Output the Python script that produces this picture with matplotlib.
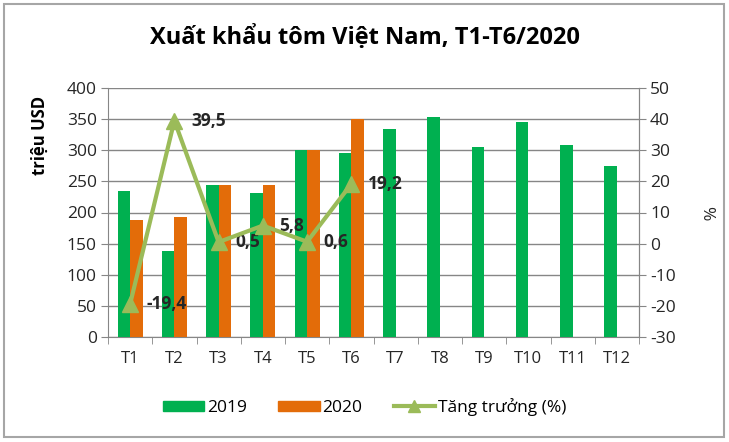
import numpy as np
import matplotlib.pyplot as plt
from matplotlib.patches import Patch, Rectangle
from matplotlib.lines import Line2D

# Chart data
months     = ["T1","T2","T3","T4","T5","T6","T7","T8","T9","T10","T11","T12"]
export2019 = [234, 138, 244, 232, 300, 295, 334, 353, 306, 345, 309, 275]
export2020 = [188, 193, 244, 244, 300, 351]
growth     = [-19.4, 39.5, 0.5, 5.8, 0.6, 19.2]

# Basic plot settings
green  = '#00B050'
orange = '#E36C09'
lgreen = '#9BBB59'
grid_c = '#868686'
text_c = '#262626'
fs     = 12.5
plt.rcParams['font.family'] = ['Open Sans', 'DejaVu Sans']
plt.rcParams['axes.unicode_minus'] = False

fig = plt.figure(figsize=(7.29, 4.42), dpi=100)
ax  = fig.add_axes([108/729, 1-337/442, 531/729, 249/442])

x  = np.arange(len(months))
bw = 0.28
ax.bar(x - bw/2, export2019, width=bw, color=green, zorder=3)
ax.bar(x[:len(export2020)] + bw/2, export2020, width=bw, color=orange, zorder=3)

ax.set_xlim(-0.5, len(months) - 0.5)
ax.set_ylim(0, 400)
ax.set_yticks(np.arange(0, 401, 50))
ax.yaxis.grid(True, color=grid_c, lw=1.0, zorder=0)
ax.set_xticks(x)
ax.set_xticklabels(months)
ax.set_xticks(np.arange(-0.5, len(months), 1), minor=True)
ax.tick_params(axis='x', which='major', length=0, pad=10, labelsize=fs - 0.5, colors=text_c)
ax.tick_params(axis='x', which='minor', length=5, color=grid_c, direction='out')
ax.tick_params(axis='y', length=5, color=grid_c, labelsize=fs, labelcolor=text_c, pad=3)
for s in ['left', 'bottom', 'right']:
    ax.spines[s].set_color(grid_c)
ax.spines['top'].set_visible(False)

# Growth line on the secondary axis
ax2 = ax.twinx()
ax2.set_ylim(-30, 50)
ax2.set_yticks(np.arange(-30, 51, 10))
ax2.tick_params(axis='y', length=5, color=grid_c, labelsize=fs, labelcolor=text_c, pad=3)
for s in ax2.spines.values():
    s.set_visible(False)
ax2.spines['right'].set_visible(True)
ax2.spines['right'].set_color(grid_c)
ax2.plot(x[:len(growth)], growth, color=lgreen, lw=3, marker='^', ms=11, zorder=5)
for xi, g in zip(x[:len(growth)], growth):
    ax2.annotate(('%.1f' % g).replace('.', ','), (xi, g), xytext=(12, 0),
                 textcoords='offset points', ha='left', va='center',
                 fontsize=fs, fontweight='bold', color=text_c)

fig.text(40/729, 1-135/442, 'triệu USD', rotation=90, ha='center', va='center',
         fontsize=fs - 0.5, fontweight='bold', color='black')
fig.text(706/729, 1-213/442, '%', rotation=-90, ha='center', va='center',
         fontsize=fs, color=text_c)
fig.text(0.5, 1-38/442, 'Xuất khẩu tôm Việt Nam, T1-T6/2020', ha='center', va='center',
         fontsize=17, fontweight='bold', color='black')

handles = [Patch(color=green), Patch(color=orange),
           Line2D([], [], color=lgreen, lw=3, marker='^', ms=8)]
fig.legend(handles, ['2019', '2020', 'Tăng trưởng (%)'], loc='center', ncol=3,
           bbox_to_anchor=(0.5, 1-407/442), frameon=False, fontsize=fs,
           handlelength=2.4, handleheight=0.55, columnspacing=1.8, handletextpad=0.15)

# Outer frame
fig.patches.append(Rectangle((4/729, 5/442), 720/729, 433/442, transform=fig.transFigure,
                             fill=False, edgecolor='#A6A6A6', lw=1.5))

plt.savefig('out.png', dpi=100)
plt.close()
